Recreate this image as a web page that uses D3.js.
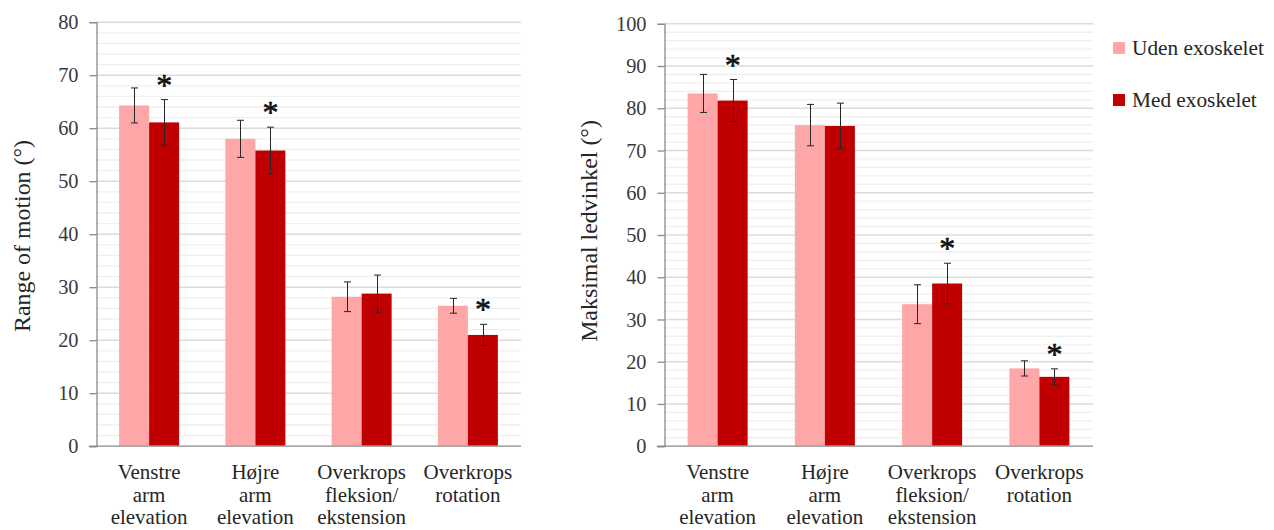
<!DOCTYPE html>
<html>
<head>
<meta charset="utf-8">
<script src="https://cdn.jsdelivr.net/npm/d3@7"></script>
<style>
  html, body { margin: 0; padding: 0; background: #ffffff; }
  svg { display: block; }
  svg text { font-family: "Liberation Serif", "DejaVu Serif", "Times New Roman", serif !important; }
</style>
</head>
<body>
<svg id="chart" width="1274" height="530"></svg>
<script>
// Category labels (one entry per line of the label)
const categories = [
  ["Venstre", "arm", "elevation"],
  ["Højre", "arm", "elevation"],
  ["Overkrops", "fleksion/", "ekstension"],
  ["Overkrops", "rotation"]
];
const seriesNames = ["Uden exoskelet", "Med exoskelet"];

// Range of motion (°)
const romUden   = [64.2, 57.9, 28.1, 26.4];
const romUdenSd = [3.3, 3.5, 2.8, 1.4];
const romMed    = [61.0, 55.7, 28.7, 20.9];
const romMedSd  = [4.3, 4.4, 3.5, 2.0];
const romSig    = [true, true, false, true];

// Maksimal ledvinkel (°)
const maxUden   = [83.4, 75.9, 33.5, 18.3];
const maxUdenSd = [4.5, 4.9, 4.6, 1.8];
const maxMed    = [81.7, 75.7, 38.4, 16.3];
const maxMedSd  = [5.0, 5.4, 4.8, 1.9];
const maxSig    = [true, false, true, true];

const romTicks = [0, 10, 20, 30, 40, 50, 60, 70, 80];
const maxTicks = [0, 10, 20, 30, 40, 50, 60, 70, 80, 90, 100];

const colors = ["#ffa6a8", "#c00000"];
const svg = d3.select("#chart");

// pick a font size that gives a string the wanted rendered width
function fitSize(str, width) {
  const t = svg.append("text").attr("font-size", 100).text(str);
  const w = t.node().getComputedTextLength();
  t.remove();
  return 100 * width / w;
}
const catSize = fitSize("elevation", 77);
const tickSize = Math.min(fitSize("80", 21), catSize * 0.97);
const titleSize = fitSize("Range of motion (°)", 192);
const legendSize = fitSize("Uden exoskelet", 132);
const starSize = fitSize("*", 16);

function drawPanel(p) {
  const g = svg.append("g");
  const y = d3.scaleLinear().domain([0, p.max]).range([p.bottom, p.top]);
  const x0 = d3.scaleBand().domain(d3.range(categories.length)).range([p.left, p.right]);
  const barW = 30;
  const x1 = d3.scaleBand().domain([0, 1]).range([0, barW * 2]);
  const offset = (x0.bandwidth() - barW * 2) / 2;

  // minor gridlines every 2 units
  const minor = d3.range(0, p.max + 0.001, 2).filter(v => v % 10 !== 0);
  g.append("g").selectAll("line").data(minor).join("line")
    .attr("x1", p.left).attr("x2", p.right)
    .attr("y1", d => y(d) + 0.5).attr("y2", d => y(d) + 0.5)
    .attr("stroke", "#efefef").attr("stroke-width", 1.3);
  // major gridlines
  g.append("g").selectAll("line").data(p.ticks.filter(v => v > 0)).join("line")
    .attr("x1", p.left).attr("x2", p.right)
    .attr("y1", d => y(d) + 0.5).attr("y2", d => y(d) + 0.5)
    .attr("stroke", "#dcdcdc").attr("stroke-width", 1.5);

  // bars
  const series = [p.uden, p.med];
  series.forEach((vals, s) => {
    g.append("g").selectAll("rect").data(vals).join("rect")
      .attr("x", (d, i) => x0(i) + offset + x1(s))
      .attr("y", d => y(d))
      .attr("width", x1.bandwidth())
      .attr("height", d => y(0) - y(d))
      .attr("fill", colors[s]);
  });

  // error bars
  const sds = [p.udenSd, p.medSd];
  series.forEach((vals, s) => {
    const eg = g.append("g").attr("stroke", "#262626").attr("stroke-width", 1);
    vals.forEach((v, i) => {
      const cx = Math.round(x0(i) + offset + x1(s) + barW / 2) + 0.5;
      const top = y(v + sds[s][i]), bot = y(v - sds[s][i]);
      eg.append("line").attr("x1", cx).attr("x2", cx).attr("y1", top).attr("y2", bot);
      eg.append("line").attr("x1", cx - 3.5).attr("x2", cx + 3.5).attr("y1", top).attr("y2", top);
      eg.append("line").attr("x1", cx - 3.5).attr("x2", cx + 3.5).attr("y1", bot).attr("y2", bot);
    });
  });

  // significance markers above the "Med" bars
  const stars = g.append("g").selectAll("text")
    .data(p.med.map((v, i) => ({ v, i, sd: p.medSd[i], sig: p.sig[i] })).filter(d => d.sig))
    .join("text")
    .attr("x", d => x0(d.i) + offset + x1(1) + barW / 2)
    .attr("y", d => y(d.v + d.sd) - 20)
    .attr("text-anchor", "middle")
    .attr("font-size", starSize)
    .attr("stroke", "#111").attr("stroke-width", 0.6)
    .attr("fill", "#111")
    .text("*");
  // centre each marker vertically on its anchor point
  stars.each(function () {
    const b = this.getBBox();
    const el = d3.select(this);
    const want = +el.attr("y");
    // glyph ink sits in the upper part of the line box
    const inkCentre = b.y + b.height * 0.36;
    el.attr("y", want + (want - inkCentre));
  });

  // y axis
  const yAxis = d3.axisLeft(y).tickValues(p.ticks).tickSize(7).tickPadding(11).tickFormat(d3.format("d"));
  const ya = g.append("g").attr("transform", `translate(${p.left + 0.5},0.5)`).call(yAxis);
  ya.select(".domain").attr("stroke", "#8a8a8a").attr("stroke-width", 1.3);
  ya.selectAll(".tick line").attr("stroke", "#8a8a8a").attr("stroke-width", 1.3);
  ya.selectAll(".tick text").attr("font-size", tickSize).attr("fill", "#3a3a3a");

  // x axis baseline
  const xAxis = d3.axisBottom(x0).tickSize(0).tickFormat("");
  const xa = g.append("g").attr("transform", `translate(0,${p.bottom + 0.5})`).call(xAxis);
  xa.select(".domain").attr("stroke", "#8a8a8a").attr("stroke-width", 1.3)
    .attr("d", `M${p.left - 7},0H${p.right}`);

  // category labels
  const lab = g.append("g").selectAll("text").data(categories).join("text")
    .attr("text-anchor", "middle")
    .attr("font-size", catSize)
    .attr("fill", "#262626");
  lab.each(function (lines, i) {
    const t = d3.select(this);
    lines.forEach((ln, k) => {
      t.append("tspan").attr("x", x0(i) + x0.bandwidth() / 2).attr("y", 479 + k * 22.5).text(ln);
    });
  });

  // y axis title
  g.append("text")
    .attr("transform", `translate(${p.titleX},${p.titleY}) rotate(-90)`)
    .attr("text-anchor", "middle")
    .attr("font-size", titleSize)
    .attr("fill", "#262626")
    .text(p.title);
}

drawPanel({
  left: 96, right: 521, top: 21.7, bottom: 445.7, max: 80, ticks: romTicks,
  uden: romUden, udenSd: romUdenSd, med: romMed, medSd: romMedSd, sig: romSig,
  title: "Range of motion (°)", titleX: 30, titleY: 236
});

drawPanel({
  left: 664, right: 1093, top: 23.3, bottom: 445.7, max: 100, ticks: maxTicks,
  uden: maxUden, udenSd: maxUdenSd, med: maxMed, medSd: maxMedSd, sig: maxSig,
  title: "Maksimal ledvinkel (°)", titleX: 597, titleY: 231
});

// legend
const legend = svg.append("g").selectAll("g").data(seriesNames).join("g")
  .attr("transform", (d, i) => `translate(1113,${48 + i * 52})`);
legend.append("rect").attr("x", 0).attr("y", -6).attr("width", 12).attr("height", 12)
  .attr("fill", (d, i) => colors[i]);
legend.append("text").attr("x", 19).attr("y", 7).attr("font-size", legendSize).attr("fill", "#262626").text(d => d);
</script>
</body>
</html>
